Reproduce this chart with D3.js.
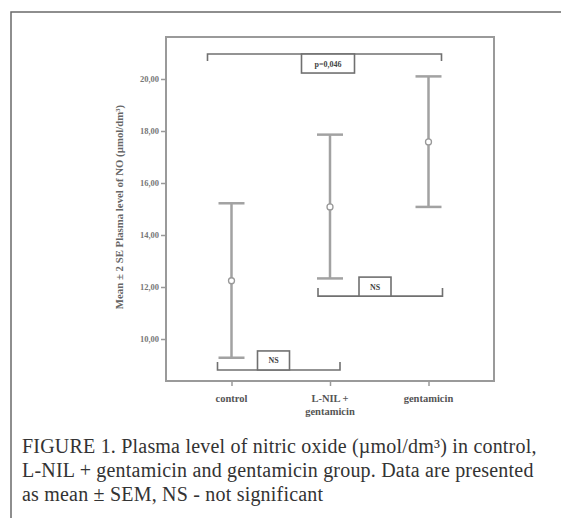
<!DOCTYPE html>
<html>
<head>
<meta charset="utf-8">
<script src="https://cdn.jsdelivr.net/npm/d3@7"></script>
<style>
  body { margin: 0; background: #fff; }
</style>
</head>
<body>
<div id="chart"></div>
<script>
// data
var groups = ["control", "L-NIL + gentamicin", "gentamicin"];
var groupLines = [["control"], ["L-NIL +", "gentamicin"], ["gentamicin"]];
var means = [12.24, 15.08, 17.58];
var lower = [9.28, 12.33, 15.08];
var upper = [15.22, 17.86, 20.1];
var yTicks = [10, 12, 14, 16, 18, 20];

// significance brackets: from group, to group, level (data units), label
var bracketFrom = [0, 1, 0];
var bracketTo = [1, 2, 2];
var bracketLevel = [8.81, 11.65, 20.96];
var bracketLabel = ["NS", "NS", "p=0,046"];

var captionLines = [
  "FIGURE 1. Plasma level of nitric oxide (\u00b5mol/dm\u00b3) in control,",
  "L-NIL + gentamicin and gentamicin group. Data are presented",
  "as mean \u00b1 SEM, NS - not significant"
];

var width = 561, height = 518;
var plot = {left: 166, top: 37, right: 494, bottom: 381};

var svg = d3.select("#chart")
    .append("svg")
    .attr("width", width)
    .attr("height", height);

// outer frame (only left and top visible)
svg.append("path")
    .attr("d", "M11,518 L11,12 L561,12")
    .attr("fill", "none")
    .attr("stroke", "#6a6a6a")
    .attr("stroke-width", 1.5);

var x = d3.scalePoint()
    .domain(groups)
    .range([plot.left, plot.right])
    .padding(0.665);

var y = d3.scaleLinear()
    .domain([8.385, 21.615])
    .range([plot.bottom, plot.top]);

var axisColor = "#9a9a9a";
var labelFont = "'Liberation Serif', 'Times New Roman', serif";

// plot frame
svg.append("rect")
    .attr("x", plot.left)
    .attr("y", plot.top)
    .attr("width", plot.right - plot.left)
    .attr("height", plot.bottom - plot.top)
    .attr("fill", "none")
    .attr("stroke", axisColor)
    .attr("stroke-width", 2);

// y axis
var yAxis = svg.append("g")
    .attr("transform", "translate(" + plot.left + ",0)")
    .call(d3.axisLeft(y).tickValues(yTicks).tickSize(5).tickPadding(2)
        .tickFormat(function(d) { return d3.format(".2f")(d).replace(".", ","); }));
yAxis.select(".domain").remove();
yAxis.selectAll("line").attr("stroke", axisColor).attr("stroke-width", 1.5);
yAxis.selectAll("text")
    .attr("font-family", labelFont)
    .attr("font-size", 8.5)
    .attr("font-weight", "bold")
    .attr("fill", "#777");

// x axis
var xAxis = svg.append("g")
    .attr("transform", "translate(0," + plot.bottom + ")")
    .call(d3.axisBottom(x).tickSize(5).tickFormat(""));
xAxis.select(".domain").remove();
xAxis.selectAll("line").attr("stroke", axisColor).attr("stroke-width", 1.5);

groups.forEach(function(g, i) {
    var t = svg.append("text")
        .attr("x", x(g))
        .attr("y", plot.bottom + 21)
        .attr("text-anchor", "middle")
        .attr("font-family", labelFont)
        .attr("font-size", 10.5)
        .attr("font-weight", "bold")
        .attr("fill", "#555");
    groupLines[i].forEach(function(line, j) {
        t.append("tspan")
            .attr("x", x(g))
            .attr("dy", j === 0 ? 0 : 12.5)
            .text(line);
    });
});

// y axis title
svg.append("text")
    .attr("transform", "translate(123," + ((plot.top + plot.bottom) / 2 - 2) + ") rotate(-90)")
    .attr("text-anchor", "middle")
    .attr("font-family", labelFont)
    .attr("font-size", 10.8)
    .attr("font-weight", "bold")
    .attr("fill", "#666")
    .text("Mean \u00b1 2 SE Plasma level of  NO (\u00b5mol/dm\u00b3)");

// error bars
var barColor = "#a2a2a2";
var capHalf = 13;
var bars = svg.selectAll(".bar")
    .data(groups)
    .enter().append("g")
    .attr("class", "bar");

bars.append("line")
    .attr("x1", function(d) { return x(d); })
    .attr("x2", function(d) { return x(d); })
    .attr("y1", function(d, i) { return y(lower[i]); })
    .attr("y2", function(d, i) { return y(upper[i]); })
    .attr("stroke", barColor)
    .attr("stroke-width", 2.5);

bars.append("line")
    .attr("x1", function(d) { return x(d) - capHalf; })
    .attr("x2", function(d) { return x(d) + capHalf; })
    .attr("y1", function(d, i) { return y(upper[i]); })
    .attr("y2", function(d, i) { return y(upper[i]); })
    .attr("stroke", barColor)
    .attr("stroke-width", 2.5);

bars.append("line")
    .attr("x1", function(d) { return x(d) - capHalf; })
    .attr("x2", function(d) { return x(d) + capHalf; })
    .attr("y1", function(d, i) { return y(lower[i]); })
    .attr("y2", function(d, i) { return y(lower[i]); })
    .attr("stroke", barColor)
    .attr("stroke-width", 2.5);

bars.append("circle")
    .attr("cx", function(d) { return x(d); })
    .attr("cy", function(d, i) { return y(means[i]); })
    .attr("r", 3)
    .attr("fill", "#fff")
    .attr("stroke", "#999")
    .attr("stroke-width", 1.3);

// significance brackets
var brColor = "#707070";
bracketLabel.forEach(function(lab, i) {
    var top = bracketLevel[i] > 20;
    var x1 = x(groups[bracketFrom[i]]) - (top ? 24 : 14);
    var x2 = x(groups[bracketTo[i]]) + (top ? 13 : 10);
    if (i === 1) { x1 = x(groups[bracketFrom[i]]) - 12; x2 = x(groups[bracketTo[i]]) + 14; }
    var yy = y(bracketLevel[i]);
    var tick = top ? 7 : -8;
    svg.append("path")
        .attr("d", "M" + x1 + "," + (yy + tick) + " L" + x1 + "," + yy +
                   " L" + x2 + "," + yy + " L" + x2 + "," + (yy + tick))
        .attr("fill", "none")
        .attr("stroke", brColor)
        .attr("stroke-width", 1.6);

    var bw = top ? 53 : 32, bh = 19;
    var bx = top ? (x1 + x2) / 2 - 23 : (i === 0 ? x1 + 40 : x1 + 41);
    var by = top ? yy : yy - bh;
    svg.append("rect")
        .attr("x", bx)
        .attr("y", by)
        .attr("width", bw)
        .attr("height", bh)
        .attr("fill", "#fff")
        .attr("stroke", brColor)
        .attr("stroke-width", 1.6);
    svg.append("text")
        .attr("x", bx + bw / 2)
        .attr("y", by + bh / 2 + 3)
        .attr("text-anchor", "middle")
        .attr("font-family", labelFont)
        .attr("font-size", 8)
        .attr("font-weight", "bold")
        .attr("fill", "#444")
        .text(lab);
});

// caption
svg.selectAll(".caption")
    .data(captionLines)
    .enter().append("text")
    .attr("class", "caption")
    .attr("x", 22)
    .attr("y", function(d, i) { return 453 + i * 24; })
    .attr("font-family", labelFont)
    .attr("font-size", 20)
    .attr("letter-spacing", 0.2)
    .attr("fill", "#333")
    .text(function(d) { return d; });
</script>
</body>
</html>
